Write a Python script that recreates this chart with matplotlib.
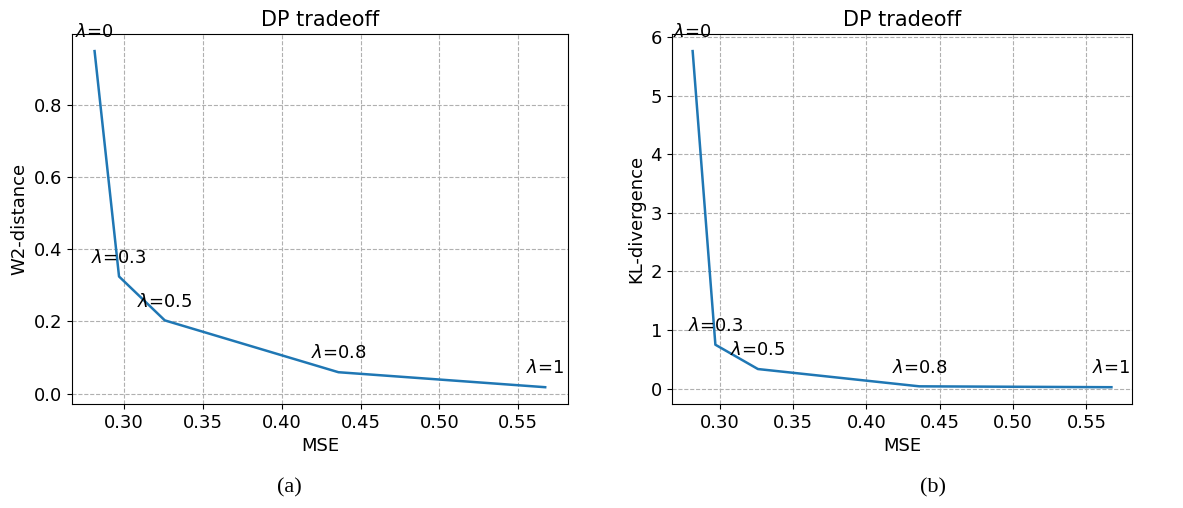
import matplotlib
matplotlib.use("Agg")
import matplotlib.pyplot as plt

# values
lambdas = ["0", "0.3", "0.5", "0.8", "1"]
mse = [0.2815, 0.297, 0.326, 0.436, 0.567]
w2_distance = [0.948, 0.324, 0.2025, 0.059, 0.0175]
kl_divergence = [5.76, 0.75, 0.335, 0.04, 0.025]

plt.rcParams['font.family'] = 'DejaVu Sans'
plt.rcParams['font.size'] = 13

fig = plt.figure(figsize=(11.83, 5.08), dpi=100)
ax1 = fig.add_axes([0.0609, 0.2047, 0.419, 0.7278])
ax2 = fig.add_axes([0.5678, 0.2047, 0.3894, 0.7278])


def draw_panel(ax, yvals, ylabel):
    ax.plot(mse, yvals, color='#1f77b4', linewidth=1.8)
    for lam, x, y in zip(lambdas, mse, yvals):
        ax.annotate(r'$\lambda$=' + lam, (x, y), xytext=(0, 7),
                    textcoords='offset points', ha='center', va='bottom',
                    fontsize=13)
    ax.grid(True, linestyle='--', color='#b0b0b0', linewidth=0.8)
    ax.set_axisbelow(True)
    ax.set_title('DP tradeoff', fontsize=15)
    ax.set_xlabel('MSE')
    ax.set_ylabel(ylabel)
    ax.set_xticks([0.30, 0.35, 0.40, 0.45, 0.50, 0.55])


draw_panel(ax1, w2_distance, 'W2-distance')
ax1.set_yticks([0.0, 0.2, 0.4, 0.6, 0.8])
draw_panel(ax2, kl_divergence, 'KL-divergence')
ax2.set_yticks([0, 1, 2, 3, 4, 5, 6])

fig.text(0.245, 0.039, '(a)', family='Liberation Serif', fontsize=16,
         ha='center', va='center')
fig.text(0.789, 0.039, '(b)', family='Liberation Serif', fontsize=16,
         ha='center', va='center')

fig.savefig('out.png', dpi=100)
